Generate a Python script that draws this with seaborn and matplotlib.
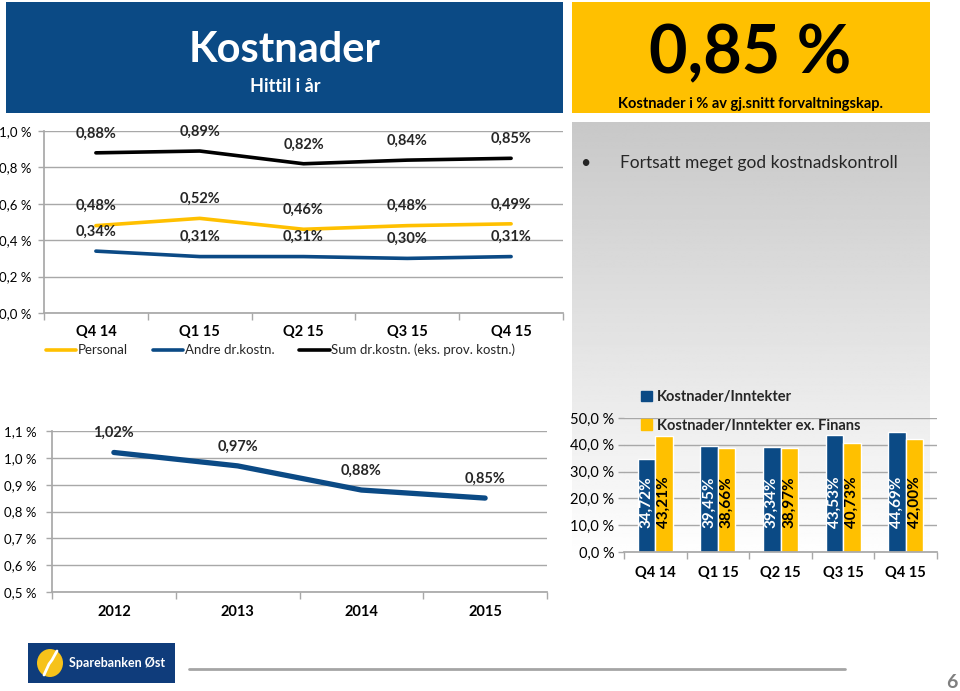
import numpy as np
import pandas as pd
import matplotlib
matplotlib.use('Agg')
import matplotlib.pyplot as plt
import matplotlib.patches as mpatches
from matplotlib.lines import Line2D
import seaborn as sns

# Quarterly costs, % of average total assets
quarters = ['Q4 14', 'Q1 15', 'Q2 15', 'Q3 15', 'Q4 15']
personal = [0.48, 0.52, 0.46, 0.48, 0.49]
andre = [0.34, 0.31, 0.31, 0.30, 0.31]
sum_kost = [0.88, 0.89, 0.82, 0.84, 0.85]

# Yearly costs
years = ['2012', '2013', '2014', '2015']
yearly_cost = [1.02, 0.97, 0.88, 0.85]

# Cost / income ratio
ki = [34.72, 39.45, 39.34, 43.53, 44.69]
ki_ex = [43.21, 38.66, 38.97, 40.73, 42.00]

headline = '0,85 %'

NAVY = '#0b4a85'
YELLOW = '#ffc000'
GRID = '#a8a8a8'

sns.set_theme(style='white')
plt.rcParams['font.family'] = ['Lato', 'DejaVu Sans']

W, H = 960, 691
fig = plt.figure(figsize=(W / 100, H / 100), dpi=100)


def box(x0, y0, x1, y1):
    return [x0 / W, 1 - y1 / H, (x1 - x0) / W, (y1 - y0) / H]


def fx(x):
    return x / W


def fy(y):
    return 1 - y / H


def lbl(v):
    return f'{v:.2f}'.replace('.', ',') + '%'


def style_axes(ax, xlabels, yticks, ydec, xfs, yfs, xpad, ypad, left_spine=True):
    n = len(xlabels)
    ax.set_xlim(-0.5, n - 0.5)
    ax.set_xticks(range(n))
    ax.set_xticklabels(xlabels, fontsize=xfs, fontweight='bold', color='black')
    ax.set_xticks(np.arange(-0.5, n, 1.0), minor=True)
    ax.tick_params(axis='x', which='major', length=0, pad=xpad)
    ax.tick_params(axis='x', which='minor', length=5, color=GRID, width=1, direction='out', bottom=True)
    ax.set_yticks(yticks)
    ax.set_yticklabels([f'{t:.{ydec}f}'.replace('.', ',') + ' %' for t in yticks],
                       fontsize=yfs, color='black')
    ax.tick_params(axis='y', length=4, color=GRID, width=1, pad=ypad, left=True)
    ax.grid(axis='y', color=GRID, linewidth=1)
    ax.grid(axis='x', visible=False)
    ax.set_axisbelow(True)
    for s in ['top', 'right']:
        ax.spines[s].set_visible(False)
    ax.spines['bottom'].set_color(GRID)
    ax.spines['left'].set_color(GRID)
    ax.spines['left'].set_visible(left_spine)
    ax.set_xlabel('')
    ax.set_ylabel('')


# ---- gradient panel on the right
bg = fig.add_axes(box(572, 122, 930, 560))
bg.imshow(np.linspace(200, 255, 256).reshape(-1, 1), cmap='gray', vmin=0, vmax=255,
          aspect='auto')
bg.axis('off')

# ---- header boxes
fig.add_artist(mpatches.Rectangle((fx(6), fy(113)), 557 / W, 111 / H,
                                  transform=fig.transFigure, color=NAVY, lw=0))
fig.text(fx(285), fy(62), 'Kostnader', color='white', fontsize=30, fontweight='bold',
         ha='center', va='baseline')
fig.text(fx(285), fy(92), 'Hittil i år', color='white', fontsize=13, fontweight='bold',
         ha='center', va='baseline')

fig.add_artist(mpatches.Rectangle((fx(572), fy(113)), 358 / W, 111 / H,
                                  transform=fig.transFigure, color=YELLOW, lw=0))
fig.text(fx(750), fy(73), headline, color='black', fontsize=48, fontweight='bold',
         ha='center', va='baseline')
fig.text(fx(751), fy(108), 'Kostnader i % av gj.snitt forvaltningskap.', color='black',
         fontsize=10.5, fontweight='bold', ha='center', va='baseline')

fig.text(fx(585), fy(168), '•', fontsize=12.5, ha='center', va='baseline')
fig.text(fx(620), fy(168), 'Fortsatt meget god kostnadskontroll', fontsize=12.5,
         ha='left', va='baseline')

# ---- top chart: quarterly costs
ax1 = fig.add_axes(box(44, 131, 563, 313))
df_top = pd.DataFrame({
    'pos': list(range(len(quarters))) * 3,
    'value': personal + andre + sum_kost,
    'series': ['Personal'] * 5 + ['Andre dr.kostn.'] * 5
              + ['Sum dr.kostn. (eks. prov. kostn.)'] * 5,
})
top_colors = {'Personal': YELLOW, 'Andre dr.kostn.': NAVY,
              'Sum dr.kostn. (eks. prov. kostn.)': 'black'}
sns.lineplot(data=df_top, x='pos', y='value', hue='series', palette=top_colors,
             linewidth=2.6, ax=ax1, legend=False)
ax1.set_ylim(0, 1.0)
style_axes(ax1, quarters, np.arange(0, 1.01, 0.2), 1, 10.5, 9.5, 9, 5)
for vals in [personal, andre, sum_kost]:
    for i, v in enumerate(vals):
        ax1.annotate(lbl(v), (i, v), xytext=(0, 14), textcoords='offset points',
                     ha='center', va='center', fontsize=10.5, fontweight='bold',
                     annotation_clip=False)
handles = [Line2D([], [], color=c, lw=2.6) for c in top_colors.values()]
fig.legend(handles, list(top_colors.keys()), loc='center left',
           bbox_to_anchor=(fx(46), fy(350)), ncol=3, frameon=False, fontsize=9.5,
           handlelength=2.3, handletextpad=0.1, columnspacing=1.9,
           borderpad=0, borderaxespad=0)

# ---- bottom left: yearly costs
ax2 = fig.add_axes(box(52, 431, 547, 592))
df_year = pd.DataFrame({'pos': range(len(years)), 'value': yearly_cost})
sns.lineplot(data=df_year, x='pos', y='value', color=NAVY, linewidth=3.8,
             solid_capstyle='round', ax=ax2)
ax2.set_ylim(0.5, 1.1)
style_axes(ax2, years, np.arange(0.5, 1.101, 0.1), 1, 10.5, 9.5, 9, 7)
for i, v in enumerate(yearly_cost):
    ax2.annotate(lbl(v), (i, v), xytext=(0, 14), textcoords='offset points',
                 ha='center', va='center', fontsize=10.5, fontweight='bold',
                 annotation_clip=False)

# ---- bottom right: cost/income bars
ax3 = fig.add_axes(box(624, 418, 937, 552))
ax3.patch.set_alpha(0)
df_bar = pd.DataFrame({
    'quarter': quarters * 2,
    'value': ki + ki_ex,
    'series': ['Kostnader/Inntekter'] * 5 + ['Kostnader/Inntekter ex. Finans'] * 5,
})
bar_colors = {'Kostnader/Inntekter': NAVY, 'Kostnader/Inntekter ex. Finans': YELLOW}
sns.barplot(data=df_bar, x='quarter', y='value', hue='series', palette=bar_colors,
            width=0.56, saturation=1, ax=ax3, legend=False)
ax3.set_ylim(0, 50)
style_axes(ax3, quarters, np.arange(0, 50.1, 10), 1, 10.5, 10.5, 10, 3, left_spine=False)
for cont, tc in zip(ax3.containers, ['white', 'black']):
    for bar in cont:
        h = bar.get_height()
        ax3.text(bar.get_x() + bar.get_width() / 2, 9, lbl(h), rotation=90,
                 ha='center', va='bottom', color=tc, fontsize=11, fontweight='bold')
bh = [mpatches.Patch(color=c) for c in bar_colors.values()]
fig.legend(bh, list(bar_colors.keys()), loc='upper left',
           bbox_to_anchor=(fx(641), fy(390)), frameon=False, fontsize=10.5,
           prop={'weight': 'bold', 'size': 10.5},
           handlelength=0.75, handleheight=0.75, handletextpad=0.35,
           labelspacing=1.0, borderpad=0, borderaxespad=0)

# ---- footer: logo, rule, page number
fig.add_artist(mpatches.Rectangle((fx(28), fy(683)), 147 / W, 40 / H,
                                  transform=fig.transFigure, color='#0f3c7b', lw=0))
fig.add_artist(mpatches.Ellipse((fx(50), fy(663)), 26 / W, 28 / H,
                                transform=fig.transFigure, color='#f6c21a', lw=0))
fig.add_artist(Line2D([fx(44), fx(49), fx(52), fx(57)], [fy(675), fy(664), fy(660), fy(651)],
                      transform=fig.transFigure, color='white', lw=2))
fig.text(fx(69), fy(663), 'Sparebanken Øst', color='white', fontsize=9,
         fontweight='bold', ha='left', va='center')
fig.add_artist(Line2D([fx(189), fx(845)], [fy(669), fy(669)],
                      transform=fig.transFigure, color='#a5a5a5', lw=2))
fig.text(fx(952), fy(682), '6', color='#7f7f7f', fontsize=14, fontweight='bold',
         ha='center', va='center')

fig.savefig('out.png', dpi=100, facecolor='white')
